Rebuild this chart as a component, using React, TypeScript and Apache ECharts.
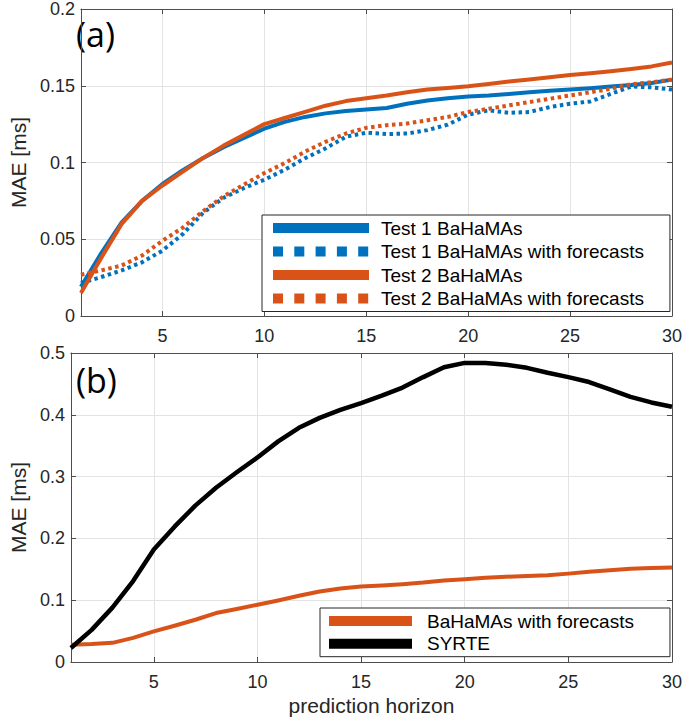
import React, { useEffect, useRef } from "react";
import * as echarts from "echarts";

const horizon = [1, 2, 3, 4, 5, 6, 7, 8, 9, 10, 11, 12, 13, 14, 15, 16, 17, 18, 19, 20, 21, 22, 23, 24, 25, 26, 27, 28, 29, 30];

// Panel (a)
const test1 = [0.019, 0.041, 0.061, 0.075, 0.086, 0.095, 0.103, 0.110, 0.116, 0.122, 0.1265, 0.1297, 0.132, 0.1335, 0.1346, 0.1355, 0.1383, 0.1404, 0.1419, 0.143, 0.1437, 0.1447, 0.1458, 0.1467, 0.1475, 0.1484, 0.1495, 0.1505, 0.1518, 0.154];
const test1Forecast = [0.0215, 0.0254, 0.0297, 0.035, 0.0426, 0.0534, 0.0673, 0.077, 0.0834, 0.0888, 0.0953, 0.1028, 0.1092, 0.1168, 0.1194, 0.1185, 0.1189, 0.1211, 0.1247, 0.1312, 0.134, 0.1324, 0.1329, 0.1361, 0.1383, 0.1398, 0.1447, 0.1495, 0.149, 0.1475];
const test2 = [0.015, 0.038, 0.060, 0.075, 0.085, 0.094, 0.103, 0.111, 0.118, 0.125, 0.129, 0.133, 0.137, 0.140, 0.1419, 0.1437, 0.1458, 0.1475, 0.1486, 0.1497, 0.1512, 0.1527, 0.154, 0.1555, 0.157, 0.1581, 0.1594, 0.1609, 0.1626, 0.1652];
const test2Forecast = [0.0269, 0.0297, 0.0329, 0.0394, 0.049, 0.0576, 0.0684, 0.078, 0.0856, 0.0931, 0.0996, 0.1071, 0.1135, 0.1189, 0.1226, 0.1243, 0.1254, 0.1275, 0.1297, 0.1329, 0.135, 0.1372, 0.1394, 0.1415, 0.1437, 0.1458, 0.148, 0.151, 0.1523, 0.154];

// Panel (b)
const bahamasForecast = [0.028, 0.029, 0.031, 0.039, 0.0495, 0.0587, 0.0684, 0.0792, 0.0857, 0.0926, 0.0996, 0.1072, 0.1141, 0.119, 0.122, 0.1237, 0.126, 0.1285, 0.132, 0.134, 0.1365, 0.138, 0.139, 0.1405, 0.143, 0.146, 0.1485, 0.151, 0.152, 0.153];
const syrte = [0.0226, 0.052, 0.088, 0.131, 0.182, 0.219, 0.253, 0.282, 0.307, 0.331, 0.357, 0.379, 0.395, 0.408, 0.419, 0.431, 0.444, 0.461, 0.477, 0.484, 0.484, 0.481, 0.476, 0.468, 0.461, 0.453, 0.441, 0.429, 0.420, 0.413];

const namesA = ["Test 1 BaHaMAs", "Test 1 BaHaMAs with forecasts", "Test 2 BaHaMAs", "Test 2 BaHaMAs with forecasts"];
const namesB = ["BaHaMAs with forecasts", "SYRTE"];

const BLUE = "#0072BD";
const ORANGE = "#D95319";
const AXIS = "#4d4d4d";
const TXT = "#262626";
const GRIDC = "#e3e3e3";
const FONT = "'Liberation Sans', Arial, sans-serif";

const pairs = (ys: number[]) => horizon.map((x, i) => [x, ys[i]]);

export default function App() {
  const ref = useRef<HTMLDivElement>(null);
  useEffect(() => {
    document.body.style.margin = "0";
    const chart = echarts.init(ref.current!, null, { renderer: "svg" });

    const xBottom = (gi: number, extra: any = {}) => ({
      type: "value",
      gridIndex: gi,
      min: 1,
      max: 30,
      splitNumber: 6,
      axisLine: { show: true, onZero: false, lineStyle: { color: AXIS, width: 1 } },
      axisTick: { show: true, inside: true, length: 5, lineStyle: { color: AXIS } },
      axisLabel: { show: true, margin: 11, fontSize: 18, color: TXT, fontFamily: FONT, showMinLabel: false },
      splitLine: { show: true, lineStyle: { color: GRIDC, width: 1 } },
      ...extra,
    });
    const xTop = (gi: number) => ({
      type: "value",
      gridIndex: gi,
      position: "top",
      min: 1,
      max: 30,
      splitNumber: 6,
      axisLine: { show: true, onZero: false, lineStyle: { color: AXIS, width: 1 } },
      axisTick: { show: true, inside: true, length: 5, lineStyle: { color: AXIS } },
      axisLabel: { show: false },
      splitLine: { show: false },
    });
    const yLeft = (gi: number, max: number, interval: number) => ({
      type: "value",
      gridIndex: gi,
      min: 0,
      max,
      interval,
      name: "MAE [ms]",
      nameLocation: "middle",
      nameGap: 38,
      nameTextStyle: { fontSize: 21, color: TXT, fontFamily: FONT },
      axisLine: { show: true, onZero: false, lineStyle: { color: AXIS, width: 1 } },
      axisTick: { show: true, inside: true, length: 5, lineStyle: { color: AXIS } },
      axisLabel: { show: true, margin: 6, fontSize: 18, color: TXT, fontFamily: FONT },
      splitLine: { show: true, lineStyle: { color: GRIDC, width: 1 } },
    });
    const yRight = (gi: number, max: number, interval: number) => ({
      type: "value",
      gridIndex: gi,
      position: "right",
      min: 0,
      max,
      interval,
      axisLine: { show: true, onZero: false, lineStyle: { color: AXIS, width: 1 } },
      axisTick: { show: true, inside: true, length: 5, lineStyle: { color: AXIS } },
      axisLabel: { show: false },
      splitLine: { show: false },
    });

    const line = (name: string, ys: number[], color: string, xi: number, yi: number, dotted: boolean, width = 4) => ({
      type: "line",
      name,
      xAxisIndex: xi,
      yAxisIndex: yi,
      data: pairs(ys),
      symbol: "none",
      smooth: false,
      color,
      lineStyle: { color, width, type: dotted ? [3.5, 3.5] : "solid", cap: "butt", join: "round" },
      emphasis: { disabled: true },
    });

    const dottedLegend = { type: [10, 11.3] };

    const option: any = {
      animation: false,
      textStyle: { fontFamily: FONT },
      grid: [
        { left: 64, top: 6, width: 611, height: 310, containLabel: false },
        { left: 64, top: 353, width: 611, height: 309, containLabel: false },
      ],
      xAxis: [
        xBottom(0),
        xTop(0),
        xBottom(1, {
          name: "prediction horizon",
          nameLocation: "middle",
          nameGap: 33,
          nameTextStyle: { fontSize: 21, color: TXT, fontFamily: FONT },
        }),
        xTop(1),
      ],
      yAxis: [yLeft(0, 0.2, 0.05), yRight(0, 0.2, 0.05), yLeft(1, 0.5, 0.1), yRight(1, 0.5, 0.1)],
      legend: [
        {
          orient: "vertical",
          left: 262,
          top: 215,
          padding: [3, 26, 3, 6],
          itemWidth: 96,
          itemHeight: 10,
          itemGap: 3.5,
          borderColor: "#262626",
          borderWidth: 1,
          backgroundColor: "#ffffff",
          selectedMode: false,
          textStyle: { fontSize: 19, color: "#000", fontFamily: FONT, lineHeight: 20, padding: [0, 0, 0, 7] },
          lineStyle: { width: 10, cap: "butt" },
          data: [
            { name: namesA[0] },
            { name: namesA[1], lineStyle: dottedLegend },
            { name: namesA[2] },
            { name: namesA[3], lineStyle: dottedLegend },
          ],
        },
        {
          orient: "vertical",
          left: 320,
          top: 608,
          padding: [3, 36, 3, 4],
          itemWidth: 83,
          itemHeight: 10,
          itemGap: 2.7,
          borderColor: "#262626",
          borderWidth: 1,
          backgroundColor: "#ffffff",
          selectedMode: false,
          textStyle: { fontSize: 19, color: "#000", fontFamily: FONT, lineHeight: 20, padding: [0, 0, 0, 10] },
          lineStyle: { width: 10, cap: "butt" },
          data: [{ name: namesB[0] }, { name: namesB[1] }],
        },
      ],
      graphic: [
        {
          type: "text",
          left: 76,
          top: 17,
          style: { text: "(a)", fontSize: 34, fill: "#000", fontFamily: "'Open Sans', 'Noto Sans', sans-serif" },
        },
        {
          type: "text",
          left: 76,
          top: 363,
          style: { text: "(b)", fontSize: 34, fill: "#000", fontFamily: "'Open Sans', 'Noto Sans', sans-serif" },
        },
      ],
      series: [
        line(namesA[0], test1, BLUE, 0, 0, false),
        line(namesA[1], test1Forecast, BLUE, 0, 0, true),
        line(namesA[2], test2, ORANGE, 0, 0, false),
        line(namesA[3], test2Forecast, ORANGE, 0, 0, true),
        line(namesB[0], bahamasForecast, ORANGE, 2, 2, false),
        line(namesB[1], syrte, "#000000", 2, 2, false, 4.5),
      ],
    };
    chart.setOption(option);
    return () => chart.dispose();
  }, []);
  return <div ref={ref} style={{ width: 685, height: 718 }} />;
}
